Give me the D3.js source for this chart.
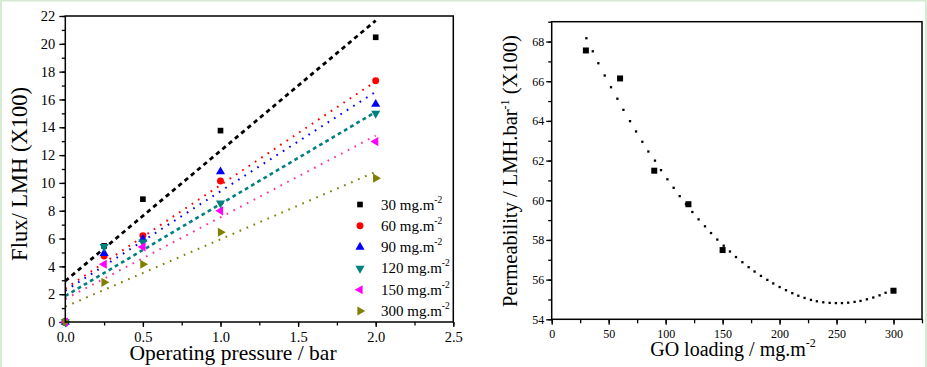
<!DOCTYPE html>
<html><head><meta charset="utf-8">
<script src="https://cdn.jsdelivr.net/npm/d3@7"></script>
<style>
body{margin:0;background:#fff;}
text{font-family:"Liberation Serif","Times New Roman",serif;fill:#000;}
</style>
</head><body>
<svg id="c" width="927" height="367"></svg>
<script>
// ---------- Data (left panel) ----------
const pressures = [0, 0.25, 0.5, 1.0, 2.0];
const loadingLabels = ["30", "60", "90", "120", "150", "300"];
const flux30  = [0, 5.47, 8.83, 13.76, 20.47];
const flux60  = [0, 4.75, 6.21, 10.14, 17.34];
const flux90  = [0, 4.94, 5.95, 10.81, 15.66];
const flux120 = [0, 5.42, 5.75, 8.54, 15.00];
const flux150 = [0, 4.15, 5.40, 7.99, 12.97];
const flux300 = [0, 2.85, 4.15, 6.45, 10.34];
const fitX = [0, 2];
const fitStart = [2.95, 2.4, 2.25, 1.87, 1.65, 1.1];
const fitEnd   = [21.67, 17.3, 16.55, 15.1, 13.4, 10.8];
const xTicksLeft = [0, 0.5, 1.0, 1.5, 2.0, 2.5];
const yTicksLeft = [0, 2, 4, 6, 8, 10, 12, 14, 16, 18, 20, 22];

// ---------- Data (right panel) ----------
const goLoading = [30, 60, 90, 120, 150, 300];
const permeability = [67.55, 66.14, 61.49, 59.80, 57.49, 55.44];
const fitCurveX = [30.4, 36, 40.9, 46.5, 52, 57.6, 62.9, 68.7, 74, 79.5, 84.8, 90.6, 95.9, 101.5, 107, 112.3,
  117.8, 123.4, 128.9, 134.5, 139.8, 145.3, 150.9, 156.4, 161.7, 167.3, 172.8, 178, 183.6, 189.2, 194.4, 200,
  205.6, 211.1, 216.4, 221.9, 227.5, 232.7, 238.3, 243.9, 249.4, 254.7, 260.2, 265.8, 271, 276.6, 282.2, 287.7, 293, 298.5];
const fitCurveY = [68.17, 67.51, 66.91, 66.29, 65.70, 65.12, 64.56, 63.99, 63.47, 62.95, 62.46, 62.00, 61.52, 61.06, 60.63, 60.21,
  59.80, 59.41, 59.04, 58.69, 58.35, 58.02, 57.71, 57.42, 57.14, 56.88, 56.63, 56.41, 56.19, 55.99, 55.81, 55.63,
  55.47, 55.32, 55.19, 55.08, 54.98, 54.91, 54.86, 54.83, 54.82, 54.82, 54.84, 54.88, 54.93, 55.01, 55.10, 55.21, 55.34, 55.49];
const xTicksRight = [0, 50, 100, 150, 200, 250, 300];
const yTicksRight = [54, 56, 58, 60, 62, 64, 66, 68];

// ---------- Styles ----------
const FONT = '"Liberation Serif","Times New Roman",serif';
const markerColors = ["#000000", "#ff0000", "#0000ff", "#008080", "#ff00ff", "#808000"];
const lineColors   = ["#000000", "#ff0000", "#0000ff", "#008080", "#ff3399", "#808000"];
const lineDash     = ["4.4,3.8", "1.7,5.9", "1.7,5.9", "3.8,3.4", "1.7,5.9", "1.7,5.9"];
const lineWidth    = [2.8, 2, 2, 2.6, 2, 2];
const markerTypes  = [
  {s: d3.symbolSquare, r: 0, size: 32},
  {s: d3.symbolCircle, r: 0, size: 38},
  {s: d3.symbolTriangle, r: 0, size: 36},
  {s: d3.symbolTriangle, r: 180, size: 36},
  {s: d3.symbolTriangle, r: -90, size: 36},
  {s: d3.symbolTriangle, r: 90, size: 36}
];
const fluxSeries = [flux30, flux60, flux90, flux120, flux150, flux300];

const svg = d3.select("#c");
svg.append("rect").attr("width", 927).attr("height", 367).attr("fill", "#fff");
// light green frame
svg.append("rect").attr("x", 0).attr("y", 0).attr("width", 2).attr("height", 367).attr("fill", "#d6ebd3");
svg.append("rect").attr("x", 0).attr("y", 0).attr("width", 927).attr("height", 1.5).attr("fill", "#d6ebd3");
svg.append("rect").attr("x", 925).attr("y", 0).attr("width", 2).attr("height", 367).attr("fill", "#d6ebd3");

function styleAxis(size) {
  return function(g) {
    g.attr("font-family", FONT).attr("font-size", size);
    g.select(".domain").remove();
    g.selectAll(".tick line").attr("stroke", "#000").attr("stroke-width", 1.3);
    g.selectAll(".tick text").attr("fill", "#000").style("font-size", size + "px");
  };
}
function minorAxis(g) {
  g.select(".domain").remove();
  g.selectAll(".tick line").attr("stroke", "#000").attr("stroke-width", 1.3);
  g.selectAll(".tick text").remove();
}

// ================= LEFT PANEL =================
const xL = d3.scaleLinear().domain([0, 2.5]).range([65.3, 453.3]);
const yL = d3.scaleLinear().domain([0, 22]).range([322, 16]);
const gL = svg.append("g");

const xMinorL = d3.range(0, 2.51, 0.25);
const yMinorL = d3.range(0, 22.1, 1);
gL.append("g").attr("transform", "translate(0,322)")
  .call(d3.axisBottom(xL).tickValues(xMinorL).tickSize(3.5).tickFormat(""))
  .call(minorAxis);
gL.append("g").attr("transform", "translate(65.3,0)")
  .call(d3.axisLeft(yL).tickValues(yMinorL).tickSize(3.5).tickFormat(""))
  .call(minorAxis);
gL.append("g").attr("transform", "translate(0,322)")
  .call(d3.axisBottom(xL).tickValues(xTicksLeft).tickSize(5).tickPadding(5).tickFormat(d3.format(".1f")))
  .call(styleAxis(14.5));
gL.append("g").attr("transform", "translate(65.3,0)")
  .call(d3.axisLeft(yL).tickValues(yTicksLeft).tickSize(6).tickPadding(4).tickFormat(d3.format("d")))
  .call(styleAxis(14.5));

// fit lines
const lineL = d3.line().x(d => xL(d[0])).y(d => yL(d[1]));
fitStart.forEach((s, i) => {
  gL.append("path")
    .attr("d", lineL([[fitX[0], s], [fitX[1], fitEnd[i]]]))
    .attr("fill", "none")
    .attr("stroke", lineColors[i])
    .attr("stroke-width", lineWidth[i])
    .attr("stroke-dasharray", lineDash[i]);
});
// markers
fluxSeries.forEach((ser, i) => {
  const mt = markerTypes[i];
  gL.append("g").selectAll("path").data(ser).join("path")
    .attr("d", d3.symbol().type(mt.s).size(mt.size))
    .attr("transform", (d, j) => `translate(${xL(pressures[j])},${yL(d)}) rotate(${mt.r})`)
    .attr("fill", markerColors[i]);
});
// frame
gL.append("rect").attr("x", 65.3).attr("y", 16).attr("width", 453.3 - 65.3).attr("height", 322 - 16)
  .attr("fill", "none").attr("stroke", "#000").attr("stroke-width", 1.5);

// legend
const legY0 = 204.5, legStep = 21.3;
loadingLabels.forEach((lab, i) => {
  const mt = markerTypes[i];
  const y = legY0 + i * legStep;
  gL.append("path").attr("d", d3.symbol().type(mt.s).size(mt.size)())
    .attr("transform", `translate(360,${y}) rotate(${mt.r})`).attr("fill", markerColors[i]);
  const t = gL.append("text").attr("x", 381).attr("y", y + 5).style("font-size", "15px");
  t.append("tspan").text(lab + " mg.m");
  t.append("tspan").attr("dy", -7).style("font-size", "9.5px").text("-2");
});

// axis titles
gL.append("text").attr("x", 233).attr("y", 360).attr("text-anchor", "middle")
  .style("font-size", "21.5px").text("Operating pressure / bar");
gL.append("text").attr("transform", "translate(26.5,174) rotate(-90)").attr("text-anchor", "middle")
  .style("font-size", "22.5px").text("Flux/ LMH (X100)");

// ================= RIGHT PANEL =================
const xR = d3.scaleLinear().domain([0, 325]).range([551.7, 922]);
const yR = d3.scaleLinear().domain([54, 69]).range([319.3, 21.7]);
const gR = svg.append("g");

gR.append("g").attr("transform", "translate(0,319.3)")
  .call(d3.axisBottom(xR).tickValues(d3.range(0, 326, 25)).tickSize(4).tickFormat(""))
  .call(minorAxis);
gR.append("g").attr("transform", "translate(551.7,0)")
  .call(d3.axisLeft(yR).tickValues(d3.range(54, 69.1, 1)).tickSize(3.5).tickFormat(""))
  .call(minorAxis);
gR.append("g").attr("transform", "translate(0,319.3)")
  .call(d3.axisBottom(xR).tickValues(xTicksRight).tickSize(5.5).tickPadding(4.5).tickFormat(d3.format("d")))
  .call(styleAxis(12));
gR.append("g").attr("transform", "translate(551.7,0)")
  .call(d3.axisLeft(yR).tickValues(yTicksRight).tickSize(5.5).tickPadding(2).tickFormat(d3.format("d")))
  .call(styleAxis(12));

// fit curve dots
gR.append("g").selectAll("rect").data(fitCurveX).join("rect")
  .attr("x", (d) => xR(d) - 1.1).attr("y", (d, i) => yR(fitCurveY[i]) - 1.1)
  .attr("width", 2.3).attr("height", 2.3).attr("fill", "#000");
// data markers
gR.append("g").selectAll("path").data(permeability).join("path")
  .attr("d", d3.symbol().type(d3.symbolSquare).size(36))
  .attr("transform", (d, i) => `translate(${xR(goLoading[i])},${yR(d)})`)
  .attr("fill", "#000");
// frame
gR.append("rect").attr("x", 551.7).attr("y", 21.7).attr("width", 922 - 551.7).attr("height", 319.3 - 21.7)
  .attr("fill", "none").attr("stroke", "#000").attr("stroke-width", 1.5);

// titles
const tx = gR.append("text").attr("x", 733).attr("y", 356).attr("text-anchor", "middle").style("font-size", "20px");
tx.append("tspan").text("GO loading / mg.m");
tx.append("tspan").attr("dy", -9).style("font-size", "12px").text("-2");

const ty = gR.append("text").attr("transform", "translate(516.5,171) rotate(-90)").attr("text-anchor", "middle").style("font-size", "20.5px");
ty.append("tspan").text("Permeability / LMH.bar");
ty.append("tspan").attr("dy", -8).style("font-size", "12px").text("-1");
ty.append("tspan").attr("dy", 8).text(" (X100)");
</script>
</body></html>
